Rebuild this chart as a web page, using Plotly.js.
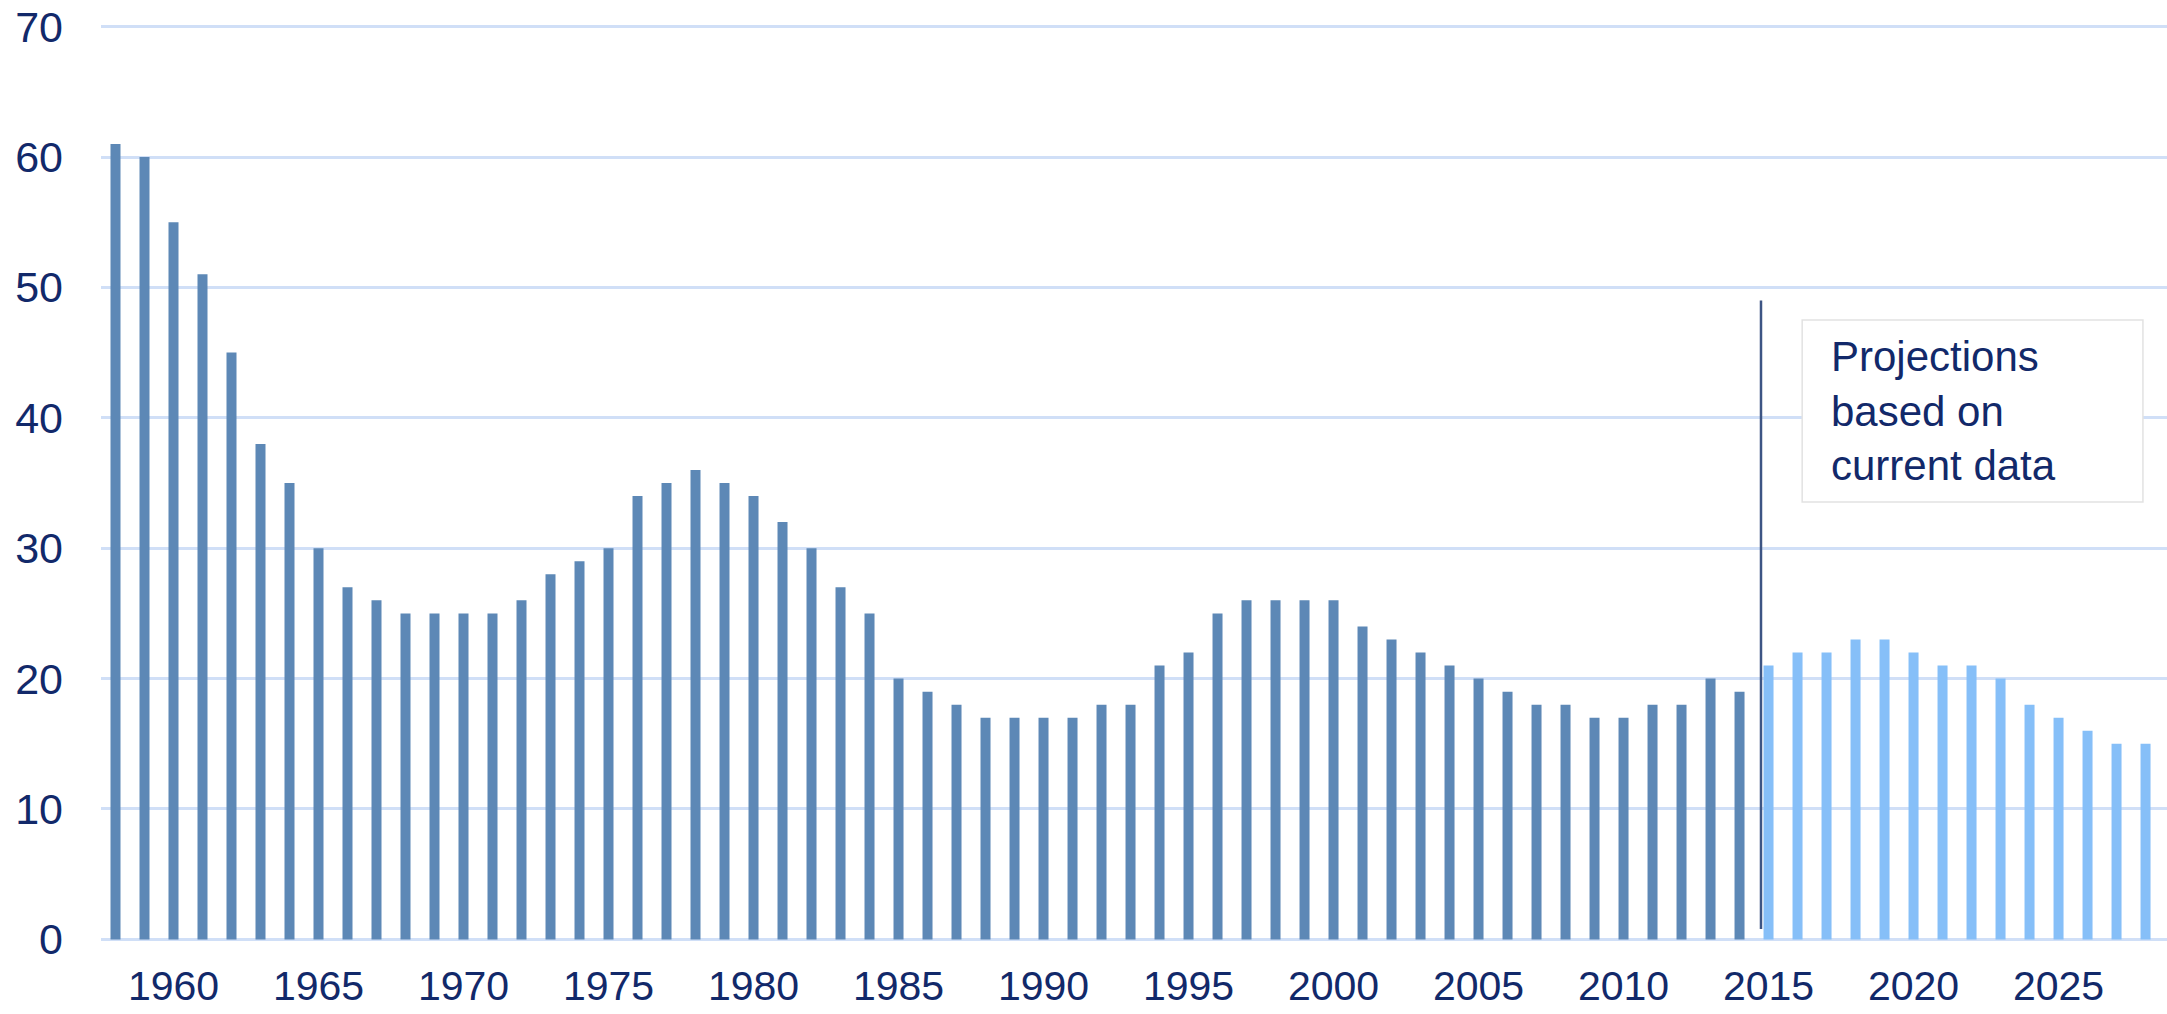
<!DOCTYPE html>
<html>
<head>
<meta charset="utf-8">
<script src="https://cdn.plot.ly/plotly-3.0.1.min.js"></script>
<style>
  html, body { margin: 0; padding: 0; background: #ffffff; }
  #chart { width: 2167px; height: 1014px; }
</style>
</head>
<body>
<div id="chart"></div>
<script>
// Historical values (dark bars)
const yearsHist = [1958,1959,1960,1961,1962,1963,1964,1965,1966,1967,1968,1969,1970,1971,1972,1973,1974,1975,1976,1977,1978,1979,1980,1981,1982,1983,1984,1985,1986,1987,1988,1989,1990,1991,1992,1993,1994,1995,1996,1997,1998,1999,2000,2001,2002,2003,2004,2005,2006,2007,2008,2009,2010,2011,2012,2013,2014];
const valuesHist = [61,60,55,51,45,38,35,30,27,26,25,25,25,25,26,28,29,30,34,35,36,35,34,32,30,27,25,20,19,18,17,17,17,17,18,18,21,22,25,26,26,26,26,24,23,22,21,20,19,18,18,17,17,18,18,20,19];

// Projected values (light bars)
const yearsProj = [2015,2016,2017,2018,2019,2020,2021,2022,2023,2024,2025,2026,2027,2028];
const valuesProj = [21,22,22,23,23,22,21,21,20,18,17,16,15,15];

// Axis ticks
const xTickVals = [1960,1965,1970,1975,1980,1985,1990,1995,2000,2005,2010,2015,2020,2025];
const yTickVals = [0,10,20,30,40,50,60,70];

const annotationText = 'Projections<br>based on<br>current data';

const textColor = '#12296a';
const fontFamily = '"Liberation Sans", Arial, sans-serif';

const traces = [
  {
    type: 'bar',
    x: yearsHist,
    y: valuesHist,
    width: 0.345,
    marker: { color: '#5d88b6', line: { width: 0 } },
    hoverinfo: 'x+y',
    showlegend: false
  },
  {
    type: 'bar',
    x: yearsProj,
    y: valuesProj,
    width: 0.345,
    marker: { color: '#86bff8', line: { width: 0 } },
    hoverinfo: 'x+y',
    showlegend: false
  }
];

const layout = {
  width: 2167,
  height: 1014,
  margin: { l: 101, r: 0, t: 24.4, b: 72.4, pad: 0 },
  paper_bgcolor: '#ffffff',
  plot_bgcolor: '#ffffff',
  barmode: 'overlay',
  showlegend: false,
  font: { family: fontFamily, color: textColor },
  xaxis: {
    range: [1957.5, 2028.74],
    tickmode: 'array',
    tickvals: xTickVals,
    ticktext: xTickVals.map(String),
    showgrid: false,
    zeroline: false,
    showline: false,
    ticks: '',
    ticklabelstandoff: 16,
    tickfont: { size: 41, color: textColor, family: fontFamily },
    fixedrange: true
  },
  yaxis: {
    range: [-0.2, 70.2],
    tickmode: 'array',
    tickvals: yTickVals,
    ticktext: yTickVals.map(String),
    showgrid: true,
    gridcolor: '#d0dff7',
    gridwidth: 3,
    zeroline: false,
    showline: false,
    ticks: '',
    ticklabelstandoff: 37,
    tickfont: { size: 43, color: textColor, family: fontFamily },
    fixedrange: true
  },
  shapes: [
    {
      type: 'line',
      xref: 'x', yref: 'y',
      x0: 2014.74, x1: 2014.74,
      y0: 0.8, y1: 49,
      line: { color: '#3d5584', width: 2.5 }
    },
    {
      type: 'rect',
      xref: 'x', yref: 'y',
      x0: 2016.16, x1: 2027.91,
      y0: 33.54, y1: 47.5,
      fillcolor: '#ffffff',
      line: { color: '#e2e2e2', width: 1.5 },
      layer: 'above'
    }
  ],
  annotations: [
    {
      xref: 'x', yref: 'y',
      x: 2017.09, y: 40.5,
      xanchor: 'left', yanchor: 'middle',
      align: 'left',
      showarrow: false,
      text: annotationText,
      font: { size: 42, color: textColor, family: fontFamily }
    }
  ]
};

Plotly.newPlot('chart', traces, layout, { displayModeBar: false, staticPlot: true });
</script>
</body>
</html>
